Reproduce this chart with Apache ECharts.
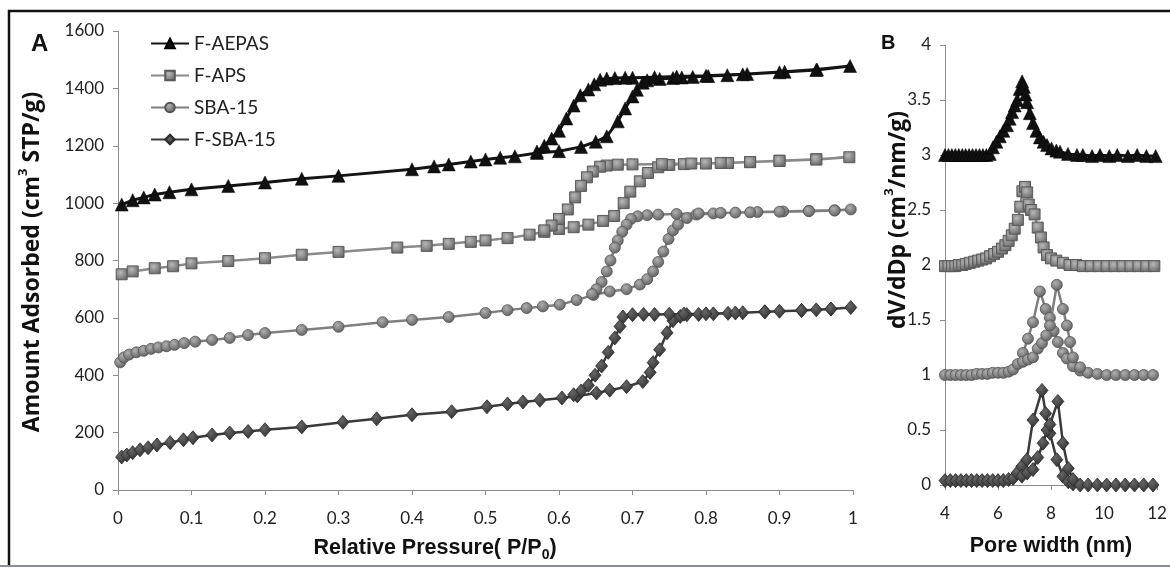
<!DOCTYPE html>
<html>
<head>
<meta charset="utf-8">
<script src="https://cdn.jsdelivr.net/npm/echarts@6/dist/echarts.min.js"></script>
<style>
  html, body { margin: 0; padding: 0; background: #ffffff; }
  #chart { width: 1170px; height: 571px; }
</style>
</head>
<body>
<div id="chart"></div>
<script>
// ---- Nitrogen isotherms: [P/P0, amount adsorbed (cm3 STP/g)] ----
const aepasAds = [[0.005,995],[0.02,1010],[0.035,1020],[0.05,1030],[0.07,1038],[0.1,1048],[0.15,1060],[0.2,1072],[0.25,1085],[0.3,1095],[0.4,1118],[0.43,1128],[0.45,1135],[0.48,1145],[0.5,1152],[0.52,1158],[0.54,1163],[0.57,1175],[0.6,1181],[0.63,1196],[0.65,1214],[0.665,1233],[0.68,1285],[0.69,1330],[0.7,1372],[0.706,1395],[0.714,1420],[0.72,1428],[0.737,1433],[0.755,1436],[0.767,1438],[0.782,1440],[0.803,1443],[0.829,1446],[0.856,1450],[0.907,1458],[0.951,1466],[0.996,1478]];
const aepasDes = [[0.95,1464],[0.9,1456],[0.85,1449],[0.8,1444],[0.76,1441],[0.73,1439],[0.7,1437],[0.69,1437],[0.676,1436],[0.665,1434],[0.656,1430],[0.648,1414],[0.64,1396],[0.629,1376],[0.62,1340],[0.61,1295],[0.6,1252],[0.59,1225],[0.58,1200],[0.57,1180]];

const apsAds = [[0.005,752],[0.02,762],[0.05,773],[0.075,780],[0.1,790],[0.15,798],[0.2,808],[0.25,820],[0.3,830],[0.38,845],[0.42,851],[0.45,858],[0.48,865],[0.5,870],[0.53,878],[0.56,890],[0.58,900],[0.6,910],[0.62,916],[0.64,925],[0.66,938],[0.675,955],[0.688,1000],[0.697,1040],[0.71,1076],[0.721,1105],[0.735,1125],[0.75,1133],[0.77,1136],[0.8,1138],[0.83,1140],[0.86,1143],[0.9,1148],[0.95,1153],[0.995,1160]];
const apsDes = [[0.95,1152],[0.9,1147],[0.86,1143],[0.82,1140],[0.78,1138],[0.74,1136],[0.7,1135],[0.68,1134],[0.665,1131],[0.656,1127],[0.646,1110],[0.638,1090],[0.63,1060],[0.622,1020],[0.612,978],[0.6,945],[0.59,922],[0.58,905]];

const sbaAds = [[0.003,445],[0.008,462],[0.015,472],[0.025,480],[0.035,485],[0.045,492],[0.055,497],[0.066,501],[0.077,506],[0.09,512],[0.105,517],[0.128,523],[0.152,530],[0.177,540],[0.2,547],[0.25,558],[0.3,569],[0.36,585],[0.4,593],[0.45,603],[0.5,617],[0.53,627],[0.556,634],[0.578,640],[0.601,646],[0.624,662],[0.647,680],[0.669,692],[0.692,700],[0.71,716],[0.72,735],[0.728,762],[0.735,795],[0.742,831],[0.749,875],[0.755,905],[0.762,925],[0.774,948],[0.787,960],[0.81,964],[0.84,967],[0.87,969],[0.905,971],[0.94,973],[0.975,975],[0.997,978]];
const sbaDes = [[0.975,974],[0.94,972],[0.9,970],[0.86,968],[0.82,966],[0.79,964],[0.76,962],[0.735,960],[0.72,958],[0.707,954],[0.698,945],[0.692,925],[0.686,900],[0.68,870],[0.676,845],[0.67,800],[0.665,762],[0.658,725],[0.651,700],[0.645,683]];

const fsbaAds = [[0.005,115],[0.012,122],[0.02,130],[0.03,140],[0.041,147],[0.053,157],[0.071,165],[0.089,175],[0.102,182],[0.128,192],[0.152,199],[0.177,204],[0.2,210],[0.25,220],[0.306,236],[0.352,248],[0.4,262],[0.454,273],[0.502,290],[0.53,300],[0.551,307],[0.574,313],[0.604,321],[0.625,328],[0.651,338],[0.669,348],[0.692,360],[0.714,378],[0.724,410],[0.728,444],[0.737,489],[0.747,548],[0.755,590],[0.765,605],[0.774,611],[0.79,612],[0.81,614],[0.83,616],[0.85,618],[0.88,621],[0.9,623],[0.93,626],[0.95,628],[0.97,631],[0.997,636]];
const fsbaDes = [[0.97,631],[0.93,626],[0.88,621],[0.84,617],[0.8,614],[0.77,613],[0.75,613],[0.73,612],[0.715,612],[0.7,611],[0.687,603],[0.683,570],[0.676,530],[0.667,480],[0.658,432],[0.649,400],[0.64,365],[0.63,345],[0.62,332]];

// ---- Pore size distributions: [pore width (nm), dV/dDp] ----
const psdAepas = [[4.0,3.0],[4.13,3.0],[4.26,3.0],[4.39,3.0],[4.52,3.0],[4.65,3.0],[4.78,3.0],[4.91,3.0],[5.04,3.0],[5.17,3.0],[5.3,3.0],[5.43,3.0],[5.56,3.0],[5.69,3.01],[5.81,3.07],[5.94,3.12],[6.07,3.17],[6.2,3.22],[6.34,3.27],[6.44,3.33],[6.53,3.39],[6.63,3.45],[6.72,3.5],[6.82,3.6],[6.91,3.67],[6.98,3.62],[7.04,3.55],[7.1,3.48],[7.2,3.38],[7.32,3.29],[7.45,3.22],[7.58,3.16],[7.72,3.12],[7.85,3.09],[8.02,3.06],[8.2,3.04],[8.34,3.03],[8.64,3.01],[8.98,3.0],[9.2,3.0],[9.55,2.99],[9.85,3.0],[10.2,2.99],[10.5,3.0],[10.9,2.99],[11.25,3.0],[11.6,2.99],[11.95,2.99]];
const psdAps = [[4.0,1.99],[4.13,1.99],[4.26,1.99],[4.39,1.99],[4.52,2.0],[4.65,2.0],[4.78,2.01],[4.94,2.02],[5.1,2.03],[5.25,2.04],[5.4,2.05],[5.55,2.06],[5.7,2.08],[5.85,2.1],[6.0,2.12],[6.15,2.15],[6.28,2.18],[6.4,2.22],[6.52,2.27],[6.63,2.33],[6.75,2.41],[6.84,2.53],[6.92,2.67],[7.02,2.71],[7.1,2.66],[7.16,2.55],[7.25,2.5],[7.38,2.46],[7.5,2.34],[7.62,2.25],[7.72,2.16],[7.85,2.09],[8.0,2.06],[8.2,2.04],[8.45,2.02],[8.7,2.0],[8.95,2.0],[9.2,1.99],[9.5,1.99],[9.8,1.99],[10.1,1.99],[10.4,1.99],[10.7,1.99],[11.0,1.99],[11.3,1.99],[11.6,1.99],[11.9,1.99]];
const psdSbaA = [[4.0,1.0],[4.2,1.0],[4.4,1.0],[4.6,1.0],[4.8,1.0],[5.0,1.0],[5.2,1.01],[5.4,1.01],[5.6,1.01],[5.8,1.02],[6.0,1.02],[6.2,1.02],[6.4,1.03],[6.57,1.05],[6.75,1.1],[6.94,1.2],[7.13,1.33],[7.32,1.48],[7.58,1.76],[7.8,1.6],[7.96,1.52],[8.1,1.4],[8.26,1.3],[8.45,1.2],[8.6,1.15],[8.83,1.08],[9.1,1.04],[9.4,1.02],[9.75,1.01],[10.1,1.0],[10.45,1.0],[10.8,1.0],[11.15,1.0],[11.5,1.0],[11.85,1.0]];
const psdSbaB = [[6.94,1.12],[7.13,1.14],[7.32,1.16],[7.5,1.24],[7.66,1.29],[7.82,1.36],[7.96,1.45],[8.22,1.82],[8.45,1.6],[8.6,1.45],[8.72,1.3],[8.83,1.16],[9.1,1.07]];
const psdFsbaA = [[4.0,0.04],[4.2,0.04],[4.4,0.04],[4.6,0.04],[4.8,0.04],[5.0,0.04],[5.2,0.04],[5.4,0.04],[5.6,0.04],[5.8,0.04],[6.0,0.04],[6.2,0.04],[6.4,0.05],[6.57,0.06],[6.72,0.11],[6.9,0.17],[7.09,0.23],[7.32,0.59],[7.66,0.86],[7.8,0.65],[7.96,0.47],[8.22,0.23],[8.45,0.08],[8.65,0.03],[8.83,0.01],[9.1,0.0],[9.4,0.0],[9.75,0.0],[10.1,0.0],[10.45,0.0],[10.8,0.0],[11.15,0.0],[11.5,0.0],[11.85,0.0]];
const psdFsbaB = [[6.9,0.08],[7.1,0.11],[7.32,0.14],[7.5,0.25],[7.7,0.38],[7.85,0.5],[7.96,0.55],[8.26,0.76],[8.45,0.38],[8.65,0.15],[8.83,0.05]];

const seriesNames = ['F-AEPAS', 'F-APS', 'SBA-15', 'F-SBA-15'];

function shade(light, dark) {
  return { type: 'radial', x: 0.4, y: 0.35, r: 0.7,
    colorStops: [{ offset: 0, color: light }, { offset: 1, color: dark }] };
}

// per-sample styling shared by both panels
const styles = {
  'F-AEPAS': { symbol: 'triangle', size: 13, line: '#141414', width: 3,
               item: { color: '#111111', borderColor: '#000000', borderWidth: 0.5 } },
  'F-APS':   { symbol: 'rect', size: 11, line: '#8a8a8a', width: 2.5,
               item: { color: shade('#b8b8b8', '#666666'), borderColor: '#5a5a5a', borderWidth: 1 } },
  'SBA-15':  { symbol: 'circle', size: 11, line: '#7f7f7f', width: 2.5,
               item: { color: shade('#b0b0b0', '#5c5c5c'), borderColor: '#555555', borderWidth: 0.8 } },
  'F-SBA-15':{ symbol: 'diamond', size: [12, 14], line: '#3a3a3a', width: 2.5,
               item: { color: shade('#666666', '#2e2e2e'), borderColor: '#2a2a2a', borderWidth: 0.8 } }
};

function lineSeries(name, data, axisIdx) {
  const s = styles[name];
  return {
    name: name, type: 'line', data: data,
    xAxisIndex: axisIdx, yAxisIndex: axisIdx,
    symbol: s.symbol, symbolSize: s.size, showSymbol: true,
    lineStyle: { color: s.line, width: s.width },
    itemStyle: s.item,
    emphasis: { disabled: true },
    silent: true, z: 3
  };
}

const axisLineStyle = { show: true, lineStyle: { color: '#8c8c8c', width: 1 } };
const tickStyle = { show: true, length: 5, inside: false, lineStyle: { color: '#8c8c8c' } };
const tickFont = { fontFamily: 'Lato', fontSize: 17, color: '#222222', formatter: function (v) { return String(v); } };

const boldTitle = { fontFamily: 'Open Sans', fontWeight: 'bold', fontSize: 23, fill: '#111', lineHeight: 30 };
const boldSup = { fontFamily: 'Open Sans', fontWeight: 'bold', fontSize: 13, fill: '#111', lineHeight: 22, verticalAlign: 'top' };
const xTitle = { fontFamily: 'Liberation Sans', fontWeight: 'bold', fontSize: 21.5, fill: '#111', lineHeight: 28 };
const xSub = { fontFamily: 'Liberation Sans', fontWeight: 'bold', fontSize: 14, fill: '#111', lineHeight: 16, verticalAlign: 'bottom' };

const chart = echarts.init(document.getElementById('chart'), null, { renderer: 'canvas' });

chart.setOption({
  animation: false,
  backgroundColor: '#ffffff',
  legend: {
    data: seriesNames,
    orient: 'vertical',
    left: 145, top: 29,
    itemWidth: 38, itemHeight: 12, itemGap: 13,
    textStyle: { fontFamily: 'Lato', fontSize: 19, color: '#222222' },
    selectedMode: false
  },
  grid: [
    { left: 118, right: 317, top: 31, bottom: 81 },
    { left: 945, right: 13, top: 45, bottom: 86 }
  ],
  xAxis: [
    { gridIndex: 0, type: 'value', min: 0, max: 1, interval: 0.1,
      axisLine: axisLineStyle, axisTick: tickStyle, splitLine: { show: false },
      axisLabel: Object.assign({ margin: 20 }, tickFont) },
    { gridIndex: 1, type: 'value', min: 4, max: 12, interval: 2,
      axisLine: axisLineStyle, axisTick: tickStyle, splitLine: { show: false },
      axisLabel: Object.assign({ margin: 20 }, tickFont),
      name: 'Pore width (nm)', nameLocation: 'middle', nameGap: 50,
      nameTextStyle: { fontFamily: 'Liberation Sans', fontWeight: 'bold', fontSize: 21.5, color: '#111' } }
  ],
  yAxis: [
    { gridIndex: 0, type: 'value', min: 0, max: 1600, interval: 200,
      axisLine: axisLineStyle, axisTick: tickStyle, splitLine: { show: false },
      axisLabel: Object.assign({ margin: 14 }, tickFont) },
    { gridIndex: 1, type: 'value', min: 0, max: 4, interval: 0.5,
      axisLine: axisLineStyle, axisTick: tickStyle, splitLine: { show: false },
      axisLabel: Object.assign({ margin: 14 }, tickFont) }
  ],
  series: [
    lineSeries('F-AEPAS', aepasAds.concat(aepasDes), 0),
    lineSeries('F-APS', apsAds.concat(apsDes), 0),
    lineSeries('SBA-15', sbaAds.concat(sbaDes), 0),
    lineSeries('F-SBA-15', fsbaAds.concat(fsbaDes), 0),
    lineSeries('F-AEPAS', psdAepas, 1),
    lineSeries('F-APS', psdAps, 1),
    lineSeries('SBA-15', psdSbaA, 1),
    lineSeries('SBA-15', psdSbaB, 1),
    lineSeries('F-SBA-15', psdFsbaA, 1),
    lineSeries('F-SBA-15', psdFsbaB, 1)
  ],
  graphic: [
    // axis titles
    { type: 'text', x: 32, y: 262, rotation: Math.PI / 2,
      style: { text: '{t|Amount Adsorbed (cm}{p|3}{t| STP/g)}', align: 'center', verticalAlign: 'middle',
               rich: { t: boldTitle, p: boldSup } } },
    { type: 'text', x: 898, y: 220, rotation: Math.PI / 2,
      style: { text: '{t|dV/dDp (cm}{p|3}{t|/nm/g)}', align: 'center', verticalAlign: 'middle',
               rich: { t: boldTitle, p: boldSup } } },
    { type: 'text', x: 435, y: 548,
      style: { text: '{t|Relative Pressure( P/P}{s|0}{t|)}', align: 'center', verticalAlign: 'middle',
               rich: { t: xTitle, s: xSub } } },
    // panel letters
    { type: 'text', left: 31, top: 32, style: { text: 'A', font: 'bold 24px "Liberation Sans"', fill: '#111' } },
    { type: 'text', left: 881, top: 33, style: { text: 'B', font: 'bold 20px "Liberation Sans"', fill: '#111' } },
    // frame lines
    { type: 'line', shape: { x1: 8, y1: 11, x2: 1170, y2: 11 }, style: { stroke: '#111111', lineWidth: 2.5 } },
    { type: 'line', shape: { x1: 9, y1: 10, x2: 9, y2: 566 }, style: { stroke: '#111111', lineWidth: 2.5 } },
    { type: 'line', shape: { x1: 0, y1: 566, x2: 1170, y2: 566 }, style: { stroke: '#8a9099', lineWidth: 2 } }
  ]
});
</script>
</body>
</html>
